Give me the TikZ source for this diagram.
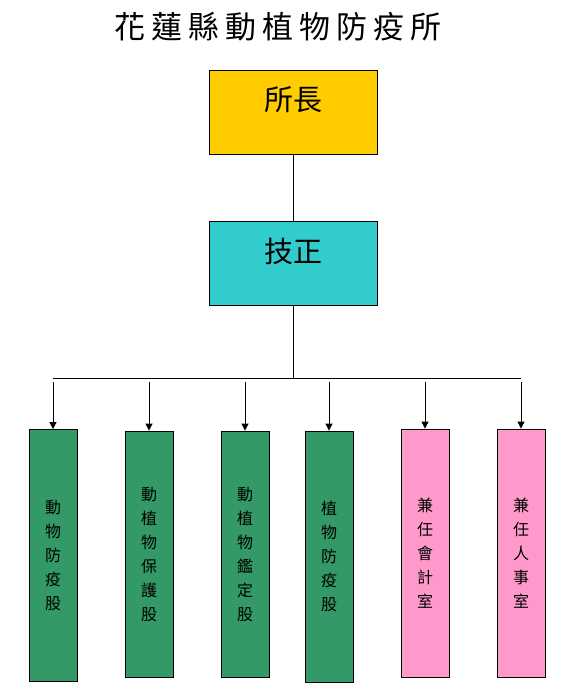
\documentclass[tikz,border=0pt]{standalone}
\usepackage{fontspec}
\setmainfont{Noto Sans CJK TC}
\usetikzlibrary{arrows.meta}
\definecolor{gold}{HTML}{FFCC00}
\definecolor{teal2}{HTML}{33CCCC}
\definecolor{grn}{HTML}{339966}
\definecolor{pnk}{HTML}{FF99CC}
\tikzset{
  x=1pt, y=-1pt,
  topbox/.style={draw=black, line width=0.8pt, minimum width=168pt, minimum height=84pt, inner sep=0pt},
  topfont/.style={font=\fontsize{29}{29}\selectfont},
  tallbox/.style={draw=black, line width=0.8pt, minimum width=48pt, minimum height=248pt, inner sep=0pt,
    align=center, font=\fontsize{16}{24}\selectfont},
  conn/.style={line width=0.8pt, draw=black},
  arr/.style={conn, -{Triangle[length=7pt,width=7pt]}},
}
\newcommand{\tsp}{\hspace{6pt}}
\begin{document}
\begin{tikzpicture}
\useasboundingbox (0,0) rectangle (567,696);
\node (title) at (278,27) {\fontsize{31}{31}\selectfont 花\tsp 蓮\tsp 縣\tsp 動\tsp 植\tsp 物\tsp 防\tsp 疫\tsp 所};
\node[topbox, fill=gold, label={[topfont, yshift=12pt]center:所長}] (chief) at (293,112) {};
\node[topbox, fill=teal2, label={[topfont, yshift=12pt]center:技正}] (tech) at (293,263.5) {};
\coordinate (hub) at (293,378);
\coordinate (hl) at (53,378);
\coordinate (hr) at (521,378);
\draw[conn] (chief.south) -- (tech.north);
\draw[conn] (tech.south) -- (hub);
\draw[conn] (hl) -- (hr);
\node[tallbox, fill=grn, minimum height=252pt] (b1) at (53,555.5) {動\\物\\防\\疫\\股};
\node[tallbox, fill=grn, minimum height=246pt] (b2) at (149,554) {動\\植\\物\\保\\護\\股};
\node[tallbox, fill=grn, minimum height=246pt] (b3) at (245,554) {動\\植\\物\\鑑\\定\\股};
\node[tallbox, fill=grn, minimum height=251pt] (b4) at (329,556.5) {植\\物\\防\\疫\\股};
\node[tallbox, fill=pnk, minimum height=248pt] (b5) at (425,553) {兼\\任\\會\\計\\室};
\node[tallbox, fill=pnk, minimum height=248pt] (b6) at (521,553) {兼\\任\\人\\事\\室};
\foreach \b/\x in {b1/53,b2/149,b3/245,b4/329,b5/425,b6/521}{
  \coordinate (t\b) at (\x,382);
  \draw[arr] (t\b) -- (\b.north);
}
\end{tikzpicture}
\end{document}
